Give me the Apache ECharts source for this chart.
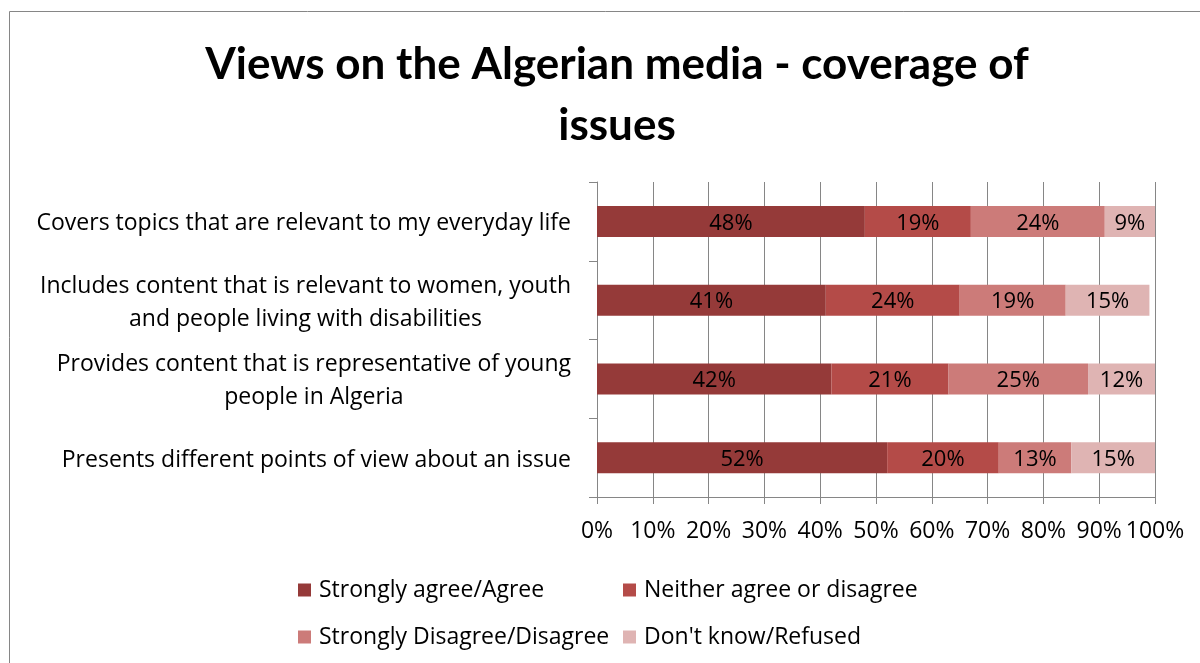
<!DOCTYPE html>
<html>
<head>
<meta charset="utf-8">
<script src="https://cdn.jsdelivr.net/npm/echarts@6/dist/echarts.min.js"></script>
<style>
  html, body { margin: 0; padding: 0; background: #fff; }
  #chart { width: 1200px; height: 663px; }
</style>
</head>
<body>
<div id="chart"></div>
<script>
// Survey statements (top to bottom)
const categories = [
  'Covers topics that are relevant to my everyday life',
  'Includes content that is relevant to women, youth\nand people living with disabilities',
  'Provides content that is representative of young\npeople in Algeria',
  'Presents different points of view about an issue'
];

// Response shares, percent
const agree    = [48, 41, 42, 52];
const neither  = [19, 24, 21, 20];
const disagree = [24, 19, 25, 13];
const dontKnow = [9, 15, 12, 15];

const seriesNames = [
  'Strongly agree/Agree',
  'Neither agree or disagree',
  'Strongly Disagree/Disagree',
  "Don't know/Refused"
];
const seriesColors = ['#953A39', '#B44B48', '#CC7B79', '#DFB4B3'];
const xTicks = [0, 10, 20, 30, 40, 50, 60, 70, 80, 90, 100];

const FONT = '"Open Sans", "Liberation Sans", sans-serif';
const TITLE_FONT = 'Lato, "Liberation Sans", sans-serif';
const TEXT_SIZE = 23;
const chart = echarts.init(document.getElementById('chart'));

const values = [agree, neither, disagree, dontKnow];
const series = values.map((data, i) => ({
  name: seriesNames[i],
  type: 'bar',
  stack: 'total',
  data: data,
  barWidth: 31,
  itemStyle: { color: seriesColors[i] },
  label: {
    show: true,
    position: 'inside',
    offset: [0, 2],
    formatter: p => p.value + '%',
    color: '#000',
    fontFamily: FONT,
    fontSize: 22
  },
  emphasis: { disabled: true }
}));

const legendBase = {
  orient: 'vertical',
  top: 575,
  padding: 0,
  itemWidth: 13,
  itemHeight: 13,
  itemGap: 17,
  icon: 'rect',
  selectedMode: false,
  textStyle: { fontFamily: FONT, fontSize: TEXT_SIZE, lineHeight: 30, color: '#000', padding: [0, 0, 0, 3] }
};

chart.setOption({
  animation: false,
  backgroundColor: '#fff',
  title: {
    text: 'Views on the Algerian media - coverage of\nissues',
    left: 612,
    textAlign: 'center',
    top: 29,
    textStyle: {
      fontFamily: TITLE_FONT,
      fontWeight: 'bold',
      fontSize: 44,
      lineHeight: 61,
      color: '#000'
    }
  },
  legend: [
    Object.assign({}, legendBase, { data: [seriesNames[0], seriesNames[2]], left: 298 }),
    Object.assign({}, legendBase, { data: [seriesNames[1], seriesNames[3]], left: 623 })
  ],
  grid: {
    left: 597,
    right: 45,
    top: 182,
    bottom: 166,
    containLabel: false
  },
  xAxis: {
    type: 'value',
    min: 0,
    max: 100,
    interval: 10,
    axisLine: { show: true, lineStyle: { color: '#868686', width: 1 } },
    axisTick: { show: true, length: 7, lineStyle: { color: '#868686' } },
    splitLine: { show: true, lineStyle: { color: '#868686', width: 1 } },
    axisLabel: {
      formatter: v => xTicks.includes(v) ? v + '%' : '',
      color: '#000',
      fontFamily: FONT,
      fontSize: TEXT_SIZE,
      margin: 23
    }
  },
  yAxis: {
    type: 'category',
    data: categories,
    inverse: true,
    axisLine: { show: true, lineStyle: { color: '#868686', width: 1 } },
    axisTick: { show: true, length: 8, lineStyle: { color: '#868686' } },
    axisLabel: {
      margin: 26,
      align: 'right',
      padding: [5, 0, 0, 0],
      formatter: v => v.split('\n').map(l => '{c|' + l + '}').join('\n'),
      rich: {
        c: {
          align: 'center',
          fontFamily: FONT,
          fontSize: TEXT_SIZE,
          lineHeight: 33,
          color: '#000'
        }
      }
    }
  },
  graphic: [
    {
      type: 'rect',
      silent: true,
      shape: { x: 9.5, y: 11.5, width: 1220, height: 700 },
      style: { fill: 'none', stroke: '#868686', lineWidth: 1 }
    }
  ],
  series: series
});
</script>
</body>
</html>
